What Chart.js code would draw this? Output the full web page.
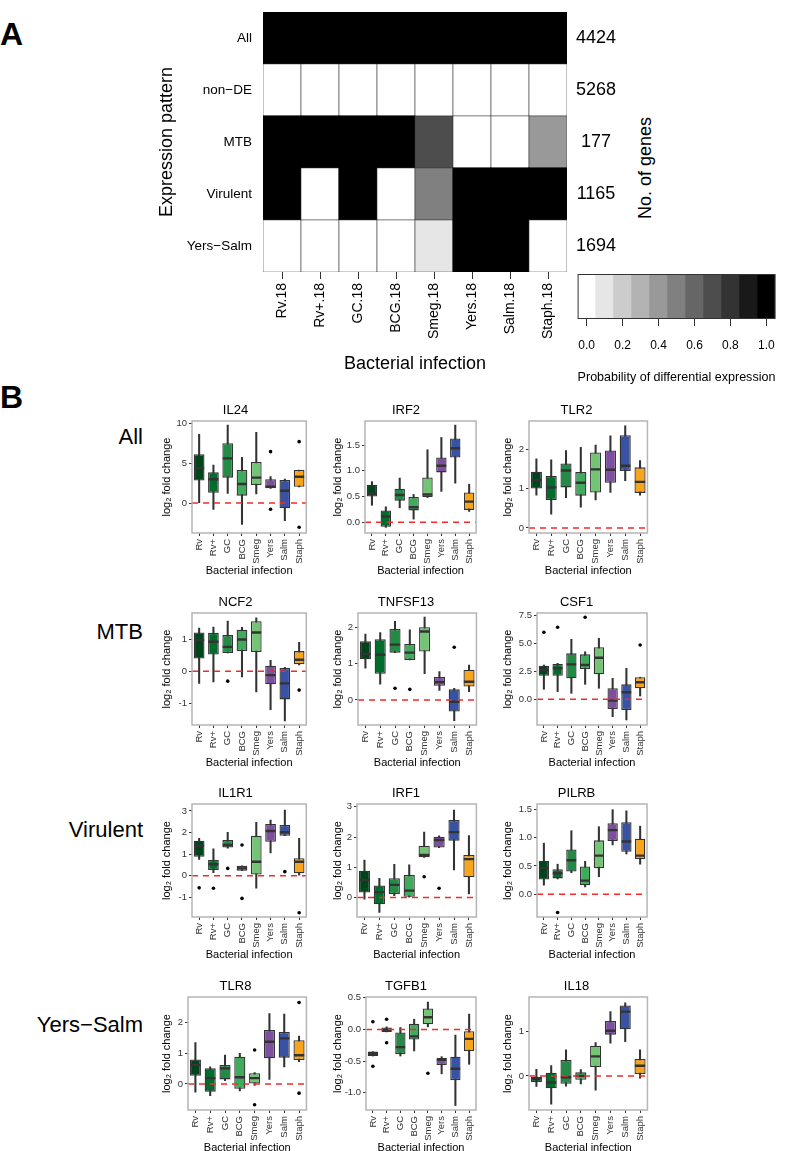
<!DOCTYPE html>
<html>
<head>
<meta charset="utf-8">
<script src="https://cdn.jsdelivr.net/npm/chart.js@4.4.1/dist/chart.umd.min.js"></script>
<style>
body { margin: 0; background: #fff; font-family: 'Liberation Sans', Arial, sans-serif; }
#page { position: relative; width: 787px; height: 1151px; overflow: hidden; background: #fff; }
canvas { position: absolute; }
.lbl { position: absolute; white-space: nowrap; color: #000; line-height: 1; }
.panel-tag { font-weight: bold; font-size: 32px; }
.row-tag { font-size: 22px; text-align: right; }
</style>
</head>
<body>
<div id="page">
  <div class="lbl panel-tag" style="left:0px; top:18px;">A</div>
  <div class="lbl panel-tag" style="left:0px; top:381px;">B</div>
  <div class="lbl" style="left:645px; top:168px; font-size:18px; transform:translate(-50%,-50%) rotate(-90deg);">No. of genes</div>
</div>
<script>
// Panel A: heatmap of expression patterns
const heatColumns = ['Rv.18', 'Rv+.18', 'GC.18', 'BCG.18', 'Smeg.18', 'Yers.18', 'Salm.18', 'Staph.18'];
const patterns = ['All', 'non\u2212DE', 'MTB', 'Virulent', 'Yers\u2212Salm'];
const geneCounts = [4424, 5268, 177, 1165, 1694];
const probAll = [1, 1, 1, 1, 1, 1, 1, 1];
const probNonDE = [0, 0, 0, 0, 0, 0, 0, 0];
const probMTB = [1, 1, 1, 1, 0.7, 0, 0, 0.4];
const probVirulent = [1, 0, 1, 0, 0.5, 1, 1, 1];
const probYersSalm = [0, 0, 0, 0, 0.1, 1, 1, 0];
const legendLevels = [0, 0.1, 0.2, 0.3, 0.4, 0.5, 0.6, 0.7, 0.8, 0.9, 1.0];
const legendTickLabels = ['0.0', '0.2', '0.4', '0.6', '0.8', '1.0'];

// Panel B: box plots, each row is [lower whisker, Q1, median, Q3, upper whisker]
const bacteria = ['Rv', 'Rv+', 'GC', 'BCG', 'Smeg', 'Yers', 'Salm', 'Staph'];

const il24Box = [[0.04, 2.8, 4.33, 6.1, 8.58], [-0.79, 1.29, 2.96, 3.83, 4.75], [1.21, 3.17, 5.58, 7.46, 9.75], [-2.67, 0.92, 2.38, 4.13, 5.71],
                 [1.13, 2.25, 3.17, 5.13, 8.83], [1.83, 1.83, 2.04, 2.96, 3.29], [-2.21, -0.67, 1.54, 2.88, 3.0], [2.0, 2.04, 3.29, 4.13, 4.13]];
const il24Out = [['Yers', 6.42], ['Yers', -0.79], ['Staph', 7.67], ['Staph', -3.04]];
const il24Ticks = ['0', '5', '10'];
const il24Range = [-3.75, 10.25];

const irf2Box = [[0.33, 0.5, 0.56, 0.73, 0.79], [-0.1, -0.09, 0.11, 0.23, 0.30], [0.28, 0.42, 0.53, 0.65, 0.86], [0.06, 0.23, 0.29, 0.49, 0.54],
                 [0.48, 0.49, 0.54, 0.87, 1.41], [0.6, 0.97, 1.1, 1.26, 1.65], [0.76, 1.26, 1.44, 1.63, 1.89], [0.21, 0.24, 0.40, 0.58, 0.74]];
const irf2Out = [];
const irf2Ticks = ['0.0', '0.5', '1.0', '1.5'];
const irf2Range = [-0.21, 1.97];

const tlr2Box = [[0.83, 1.0, 1.22, 1.43, 1.76], [0.35, 0.71, 1.03, 1.32, 1.73], [0.77, 1.03, 1.46, 1.64, 1.97], [0.53, 0.82, 1.15, 1.42, 2.05],
                 [0.71, 0.9, 1.49, 1.92, 2.11], [0.9, 1.15, 1.48, 1.97, 2.34], [1.2, 1.45, 1.58, 2.36, 2.6], [0.83, 0.89, 1.17, 1.54, 1.71]];
const tlr2Out = [];
const tlr2Ticks = ['0', '1', '2'];
const tlr2Range = [-0.13, 2.72];

const ncf2Box = [[-0.38, 0.4, 0.98, 1.21, 1.35], [-0.33, 0.52, 0.92, 1.2, 1.38], [0.57, 0.57, 0.76, 1.13, 1.57], [-0.18, 0.63, 0.99, 1.3, 1.37],
                 [-0.65, 0.6, 1.21, 1.56, 1.67], [-1.2, -0.41, -0.12, 0.17, 0.34], [-1.55, -0.88, -0.38, 0.10, 0.12], [0.2, 0.22, 0.36, 0.63, 0.9]];
const ncf2Out = [['GC', -0.31], ['Staph', -0.59]];
const ncf2Ticks = ['-1', '0', '1'];
const ncf2Range = [-1.68, 1.82];

const tnfsf13Box = [[0.87, 1.12, 1.26, 1.61, 1.81], [0.43, 0.72, 1.24, 1.67, 1.85], [1.3, 1.3, 1.52, 1.95, 2.16], [1.1, 1.1, 1.3, 1.54, 1.93],
                    [0.72, 1.33, 1.88, 2.0, 2.28], [0.26, 0.39, 0.49, 0.63, 0.78], [-0.57, -0.32, -0.05, 0.29, 0.32], [0.23, 0.37, 0.5, 0.83, 0.96]];
const tnfsf13Out = [['GC', 0.32], ['BCG', 0.29], ['Salm', 1.45]];
const tnfsf13Ticks = ['0', '1', '2'];
const tnfsf13Range = [-0.69, 2.39];

const csf1Box = [[0.89, 2.1, 2.61, 2.99, 3.05], [0.68, 2.1, 2.76, 3.14, 3.2], [0.53, 1.87, 3.11, 4.09, 5.34], [1.33, 2.7, 3.05, 4.0, 4.23],
                 [0.98, 2.22, 3.7, 4.63, 5.43], [-1.55, -0.86, -0.12, 0.98, 1.87], [-1.84, -0.95, 0.62, 1.33, 2.76], [0.29, 0.98, 1.51, 1.96, 1.96]];
const csf1Out = [['Rv', 5.96], ['Rv+', 6.41], ['BCG', 7.3], ['Staph', 4.83]];
const csf1Ticks = ['0.0', '2.5', '5.0', '7.5'];
const csf1Range = [-2.29, 7.68];

const il1r1Box = [[0.76, 0.88, 1.38, 1.62, 1.73], [0.14, 0.26, 0.53, 0.73, 1.24], [1.27, 1.31, 1.42, 1.65, 2.01], [0.23, 0.23, 0.34, 0.46, 0.46],
                  [-0.58, 0.06, 0.65, 1.85, 2.47], [1.06, 1.57, 2.07, 2.39, 2.58], [1.85, 1.85, 2.01, 2.35, 3.04], [0.0, 0.11, 0.65, 0.81, 1.73]];
const il1r1Out = [['Rv', -0.56], ['Rv+', -0.58], ['GC', 0.34], ['BCG', 1.42], ['BCG', -1.05], ['Salm', 0.19], ['Staph', -1.71]];
const il1r1Ticks = ['-1', '0', '1', '2', '3'];
const il1r1Range = [-1.91, 3.32];

const irf1Box = [[-0.05, 0.17, 0.58, 0.89, 1.24], [-0.49, -0.22, 0.18, 0.4, 0.64], [0.06, 0.12, 0.42, 0.64, 1.1], [0.0, 0.03, 0.23, 0.75, 1.08],
                 [1.33, 1.33, 1.41, 1.71, 2.16], [1.65, 1.65, 1.9, 2.01, 2.04], [0.91, 1.88, 2.16, 2.56, 2.89], [0.12, 0.67, 1.27, 1.41, 2.05]];
const irf1Out = [['Smeg', 0.69], ['Yers', 0.31]];
const irf1Ticks = ['0', '1', '2', '3'];
const irf1Range = [-0.64, 3.09];

const pilrbBox = [[0.16, 0.26, 0.46, 0.59, 0.9], [0.27, 0.28, 0.37, 0.44, 0.53], [0.38, 0.4, 0.6, 0.79, 1.12], [0.13, 0.16, 0.24, 0.49, 0.58],
                  [0.31, 0.46, 0.68, 0.95, 1.19], [0.87, 0.94, 1.13, 1.25, 1.49], [0.71, 0.75, 0.93, 1.27, 1.47], [0.53, 0.62, 0.68, 0.98, 1.2]];
const pilrbOut = [['Rv+', -0.32]];
const pilrbTicks = ['0.0', '0.5', '1.0', '1.5'];
const pilrbRange = [-0.4, 1.59];

const tlr8Box = [[-0.27, 0.27, 0.62, 0.8, 1.35], [-0.38, -0.25, 0.19, 0.51, 0.56], [0.11, 0.15, 0.51, 0.62, 0.94], [-0.23, -0.16, 0.22, 0.89, 1.0],
                 [-0.05, 0.0, 0.19, 0.35, 0.37], [0.15, 0.84, 1.38, 1.76, 2.3], [0.56, 0.86, 1.49, 1.7, 2.28], [0.73, 0.78, 0.94, 1.43, 1.56]];
const tlr8Out = [['Smeg', 1.11], ['Smeg', -0.68], ['Staph', 2.66], ['Staph', -0.3]];
const tlr8Ticks = ['0', '1', '2'];
const tlr8Range = [-0.85, 2.84];

const tgfb1Box = [[-0.42, -0.42, -0.39, -0.35, -0.35], [-0.04, -0.04, -0.01, 0.03, 0.04], [-0.42, -0.39, -0.28, -0.05, 0.03], [-0.34, -0.16, -0.11, 0.09, 0.16],
                  [0.04, 0.08, 0.19, 0.33, 0.43], [-0.7, -0.56, -0.48, -0.45, -0.43], [-1.2, -0.8, -0.62, -0.43, -0.09], [-0.55, -0.34, -0.15, -0.03, 0.24]];
const tgfb1Out = [['Rv', 0.12], ['Rv', -0.58], ['Rv+', 0.16], ['Rv+', -0.21], ['Smeg', -0.69]];
const tgfb1Ticks = ['-1.0', '-0.5', '0.0', '0.5'];
const tgfb1Range = [-1.27, 0.51];

const il18Box = [[-0.24, -0.14, -0.05, -0.02, 0.15], [-0.64, -0.28, -0.15, 0.07, 0.23], [-0.23, -0.18, -0.03, 0.36, 0.59], [-0.18, -0.09, 0.0, 0.08, 0.14],
                 [-0.32, 0.2, 0.44, 0.68, 0.75], [0.74, 0.93, 1.02, 1.24, 1.45], [0.77, 1.05, 1.45, 1.59, 1.65], [-0.05, 0.04, 0.23, 0.38, 0.59]];
const il18Out = [];
const il18Ticks = ['0', '1'];
const il18Range = [-0.77, 1.78];

const genes = [
    { name: 'IL24', box: il24Box, out: il24Out, ticks: il24Ticks, range: il24Range },
    { name: 'IRF2', box: irf2Box, out: irf2Out, ticks: irf2Ticks, range: irf2Range },
    { name: 'TLR2', box: tlr2Box, out: tlr2Out, ticks: tlr2Ticks, range: tlr2Range },
    { name: 'NCF2', box: ncf2Box, out: ncf2Out, ticks: ncf2Ticks, range: ncf2Range },
    { name: 'TNFSF13', box: tnfsf13Box, out: tnfsf13Out, ticks: tnfsf13Ticks, range: tnfsf13Range },
    { name: 'CSF1', box: csf1Box, out: csf1Out, ticks: csf1Ticks, range: csf1Range },
    { name: 'IL1R1', box: il1r1Box, out: il1r1Out, ticks: il1r1Ticks, range: il1r1Range },
    { name: 'IRF1', box: irf1Box, out: irf1Out, ticks: irf1Ticks, range: irf1Range },
    { name: 'PILRB', box: pilrbBox, out: pilrbOut, ticks: pilrbTicks, range: pilrbRange },
    { name: 'TLR8', box: tlr8Box, out: tlr8Out, ticks: tlr8Ticks, range: tlr8Range },
    { name: 'TGFB1', box: tgfb1Box, out: tgfb1Out, ticks: tgfb1Ticks, range: tgfb1Range },
    { name: 'IL18', box: il18Box, out: il18Out, ticks: il18Ticks, range: il18Range }
];

// Layout: plot area [left, right, top, bottom] of each box panel, y-title centre per column
const panelFrames = [
    [192, 311, 421, 533], [365, 481, 421, 533], [529, 652, 421, 533],
    [192, 311, 613, 725], [358, 481, 613, 725], [537, 652, 613, 725],
    [192, 311, 804, 917], [357, 481, 804, 917], [537, 652, 804, 917],
    [188, 311, 997, 1110], [366, 481, 997, 1110], [529, 652, 997, 1110]
];
const yTitleX = [167, 338, 508];
const rowTags = [['All', 437], ['MTB', 632], ['Virulent', 830], ['Yers\u2212Salm', 1025]];
const boxColors = ['#00441b', '#006d2c', '#238b45', '#41ab5d', '#74c476', '#7e4fa1', '#3953a4', '#f9a51b'];

Chart.defaults.font.family = "'Liberation Sans', Arial, sans-serif";
Chart.defaults.color = '#000';
Chart.defaults.animation = false;
Chart.defaults.plugins.legend.display = false;
Chart.defaults.plugins.tooltip.enabled = false;

const page = document.getElementById('page');

function addCanvas(left, top, width, height) {
    const c = document.createElement('canvas');
    c.width = width;
    c.height = height;
    c.style.left = left + 'px';
    c.style.top = top + 'px';
    c.style.width = width + 'px';
    c.style.height = height + 'px';
    page.appendChild(c);
    return c.getContext('2d');
}

function grey(v) {
    const g = Math.round(255 * (1 - v));
    return `rgb(${g},${g},${g})`;
}

rowTags.forEach(([text, y]) => {
    const d = document.createElement('div');
    d.className = 'lbl row-tag';
    d.textContent = text;
    d.style.right = (787 - 143) + 'px';
    d.style.top = (y - 11) + 'px';
    page.appendChild(d);
});

// Heatmap (cells 38 x 52 px so the edges fall on whole pixels)
const heatRows = [probAll, probNonDE, probMTB, probVirulent, probYersSalm];
const rowCentres = [0.5, 1.5, 2.5, 3.5, 4.5];
const noTick = 'rgba(0,0,0,0)';

new Chart(addCanvas(155, 1, 480, 374), {
    type: 'bar',
    data: {
        labels: heatColumns,
        // stacked from the bottom row up; solid black cells get no outline so they merge
        datasets: heatRows.slice().reverse().map(row => ({
            data: row.map(() => 1),
            backgroundColor: row.map(grey),
            borderColor: '#3a3a3a',
            borderWidth: row.map(v => v >= 1 ? 0 : 0.8),
            borderSkipped: false,
            inflateAmount: 0.5,
            barPercentage: 1,
            categoryPercentage: 1
        }))
    },
    options: {
        responsive: false,
        layout: { padding: { top: 11, right: 0, bottom: 0, left: 0 } },
        scales: {
            x: {
                stacked: true,
                grid: { offset: false, drawOnChartArea: false, tickLength: 7, color: '#333' },
                border: { display: false },
                ticks: { minRotation: 90, maxRotation: 90, autoSkip: false, padding: 4, font: { size: 14 }, color: '#000' },
                title: { display: true, text: 'Bacterial infection', font: { size: 18 }, padding: 0, color: '#000' },
                afterFit: s => { s.height = 103; }
            },
            y: {
                stacked: true, min: 0, max: 5, position: 'left',
                grid: { drawOnChartArea: false, tickLength: 11, color: noTick },
                border: { display: false },
                afterBuildTicks: s => { s.ticks = rowCentres.map(v => ({ value: v })); },
                ticks: { callback: (v, i) => patterns[4 - i], padding: 0, font: { size: 13.5 }, color: '#000' },
                title: { display: true, text: 'Expression pattern', font: { size: 18 }, padding: { top: 1, bottom: 0 }, color: '#000' },
                afterFit: s => { s.width = 108; }
            },
            y2: {
                min: 0, max: 5, position: 'right',
                grid: { drawOnChartArea: false, tickLength: 9, color: noTick },
                border: { display: false },
                afterBuildTicks: s => { s.ticks = rowCentres.map(v => ({ value: v })); },
                ticks: { callback: (v, i) => String(geneCounts[4 - i]), padding: 0, crossAlign: 'center', font: { size: 18 }, color: '#000' },
                afterFit: s => { s.width = 68; }
            }
        }
    }
});

// Colour key
const frameBox = {
    id: 'frameBox',
    afterDatasetsDraw(chart) {
        const { ctx, chartArea: a } = chart;
        ctx.save();
        ctx.strokeStyle = '#333';
        ctx.lineWidth = 1;
        ctx.strokeRect(a.left + 0.5, a.top + 0.5, a.right - a.left - 1, a.bottom - a.top - 1);
        ctx.restore();
    }
};

new Chart(addCanvas(566, 273, 221, 112), {
    type: 'bar',
    data: {
        labels: legendLevels.map(String),
        datasets: [{
            data: legendLevels.map(() => 1),
            backgroundColor: legendLevels.map(grey),
            borderWidth: 0,
            barPercentage: 1,
            categoryPercentage: 1
        }]
    },
    options: {
        responsive: false,
        layout: { padding: { top: 1, right: 7, bottom: 0, left: 10 } },
        scales: {
            x: {
                grid: { offset: false, drawOnChartArea: false, tickLength: 7, color: c => c.index % 2 ? noTick : '#333' },
                border: { display: false },
                ticks: { autoSkip: false, maxRotation: 0, padding: 12, font: { size: 12 }, color: '#000',
                         callback: (v, i) => i % 2 ? '' : legendTickLabels[i / 2] },
                title: { display: true, text: 'Probability of differential expression', font: { size: 13.5 }, padding: 0, color: '#000' },
                afterFit: s => { s.height = 66; }
            },
            y: { display: false, min: 0, max: 1 }
        }
    },
    plugins: [frameBox]
});

// Box plot panels
const panelDecor = {
    id: 'panelDecor',
    afterDatasetsDraw(chart) {
        const { ctx, chartArea: a, scales: { y } } = chart;
        const y0 = y.getPixelForValue(0);
        ctx.save();
        ctx.strokeStyle = '#f42a2a';
        ctx.lineWidth = 1.5;
        ctx.setLineDash([6, 5]);
        ctx.beginPath();
        ctx.moveTo(a.left, y0);
        ctx.lineTo(a.right, y0);
        ctx.stroke();
        ctx.setLineDash([]);
        ctx.strokeStyle = '#b5b5b5';
        ctx.lineWidth = 1.5;
        ctx.strokeRect(a.left, a.top, a.right - a.left, a.bottom - a.top);
        ctx.restore();
    }
};

function drawBoxPanel(gene, frame, col) {
    const [pl, pr, pt, pb] = frame;
    const cl = Math.round(yTitleX[col] - 6.6);
    const ct = pt - 18;
    const halfBox = (pr - pl) / 8 * 0.75 / 2;
    const ctx = addCanvas(cl, ct, pr + 3 - cl, (pb - pt) + 18 + 45);

    new Chart(ctx, {
        type: 'bar',
        data: {
            labels: bacteria,
            datasets: [
                { // whiskers
                    data: gene.box.map(b => [b[0], b[4]]),
                    backgroundColor: '#333', barThickness: 1.4, grouped: false, order: 4
                },
                { // boxes
                    data: gene.box.map(b => [b[1], b[3]]),
                    backgroundColor: boxColors, borderColor: '#333', borderWidth: 1.3, borderSkipped: false,
                    barPercentage: 0.75, categoryPercentage: 1, grouped: false, order: 3
                },
                { // medians
                    type: 'line', data: gene.box.map(b => b[2]), showLine: false,
                    pointStyle: 'line', pointRadius: halfBox - 0.6, pointBorderColor: '#333', pointBorderWidth: 2.4, order: 2
                },
                { // outliers
                    type: 'line', data: gene.out.map(o => ({ x: o[0], y: o[1] })), showLine: false,
                    pointStyle: 'circle', pointRadius: 1.8, pointBackgroundColor: '#000', pointBorderWidth: 0, order: 1
                }
            ]
        },
        options: {
            responsive: false,
            layout: { padding: { top: 0, right: 3, bottom: 0, left: 0 } },
            plugins: {
                title: { display: true, text: gene.name, font: { size: 13, weight: 'normal' }, padding: { top: 0, bottom: 2.4 }, color: '#000' }
            },
            scales: {
                x: {
                    grid: { offset: false, drawOnChartArea: false, tickLength: 3, color: '#333' },
                    border: { display: false },
                    ticks: { minRotation: 90, maxRotation: 90, autoSkip: false, font: { size: 9.5 }, color: '#333', padding: 3 },
                    title: { display: true, text: 'Bacterial infection', font: { size: 11 }, padding: 0, color: '#000' },
                    afterFit: s => { s.height = 45; }
                },
                y: {
                    min: gene.range[0], max: gene.range[1],
                    afterBuildTicks: s => { s.ticks = gene.ticks.map(t => ({ value: parseFloat(t) })); },
                    ticks: { callback: (v, i) => gene.ticks[i], font: { size: 9.5 }, color: '#333', padding: 2 },
                    grid: { drawOnChartArea: false, tickLength: 3, color: '#333' },
                    border: { display: false },
                    title: { display: true, text: 'log\u2082 fold change', font: { size: 11 }, padding: 0, color: '#000' },
                    afterFit: s => { s.width = pl - cl; }
                }
            }
        },
        plugins: [panelDecor]
    });
}

genes.forEach((g, i) => drawBoxPanel(g, panelFrames[i], i % 3));
</script>
</body>
</html>
